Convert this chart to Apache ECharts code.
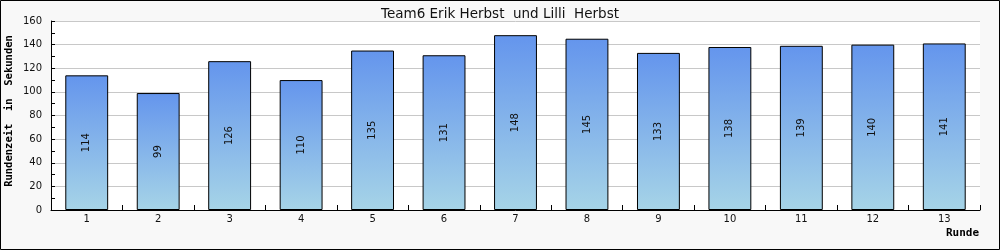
<!DOCTYPE html>
<html>
<head>
<meta charset="utf-8">
<script src="https://cdn.jsdelivr.net/npm/echarts@6/dist/echarts.min.js"></script>
<style>
html,body{margin:0;padding:0;background:#f8f8f8;}
#c{width:1000px;height:250px;}
</style>
</head>
<body>
<div id="c"></div>
<script>
const titleText = 'Team6 Erik Herbst  und Lilli  Herbst';
const yAxisName = 'Rundenzeit  in  Sekunden';
const xAxisName = 'Runde';
const categories = ['1','2','3','4','5','6','7','8','9','10','11','12','13'];
const lapTimes = [114, 99, 126, 110, 135, 131, 148, 145, 133, 138, 139, 140, 141];

const chart = echarts.init(document.getElementById('c'), null, {renderer: 'canvas'});
const sans = 'DejaVu Sans';
const mono = 'DejaVu Sans Mono';
chart.setOption({
  backgroundColor: '#f8f8f8',
  animation: false,
  title: {
    text: titleText, left: 'center', top: 2,
    textStyle: {fontFamily: sans, fontSize: 13.5, fontWeight: 'normal', color: '#111'}
  },
  grid: {left: 51, right: 20, top: 21, bottom: 40, show: true, backgroundColor: '#fff', borderWidth: 0},
  xAxis: {
    type: 'category', data: categories, boundaryGap: true,
    axisLine: {lineStyle: {color: '#000', width: 1}},
    axisTick: {show: true, inside: true, length: 5, interval: 0, lineStyle: {color: '#000'}},
    axisLabel: {fontFamily: sans, fontSize: 10, color: '#111', margin: 4, interval: 0},
    splitLine: {show: false}
  },
  yAxis: {
    type: 'value', min: 0, max: 160, interval: 20,
    axisLine: {show: true, lineStyle: {color: '#000', width: 1}},
    axisTick: {show: true, inside: true, length: 4, lineStyle: {color: '#000'}},
    minorTick: {show: true, splitNumber: 2, length: 4, lineStyle: {color: '#000'}},
    axisLabel: {fontFamily: sans, fontSize: 10, color: '#111', margin: 9},
    splitLine: {show: true, lineStyle: {color: '#c8c8c8', width: 1}}
  },
  graphic: [
    {type: 'text', x: 9, y: 111, rotation: Math.PI/2,
     style: {text: yAxisName, fontFamily: mono, fontWeight: 'bold', fontSize: 10.5, fill: '#000',
             align: 'center', verticalAlign: 'middle'}},
    {type: 'text', x: 979, y: 233,
     style: {text: xAxisName, fontFamily: mono, fontWeight: 'bold', fontSize: 11, fill: '#000',
             align: 'right', verticalAlign: 'middle'}},
    {type: 'rect', shape: {x: 0.5, y: 0.5, width: 999, height: 249},
     style: {fill: 'none', stroke: '#000', lineWidth: 1}, silent: true, z: 100}
  ],
  series: [{
    type: 'bar', data: lapTimes, barWidth: '60%',
    itemStyle: {
      color: new echarts.graphic.LinearGradient(0, 0, 0, 1, [
        {offset: 0, color: '#6495ed'}, {offset: 1, color: '#a6d4e7'}
      ]),
      borderColor: '#000', borderWidth: 1
    },
    label: {show: true, position: 'inside', rotate: 90, fontFamily: sans, fontSize: 10, color: '#111'}
  }]
});
</script>
</body>
</html>
